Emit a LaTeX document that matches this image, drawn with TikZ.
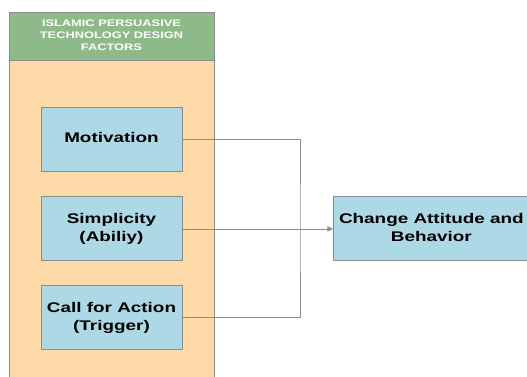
\documentclass[tikz,border=0pt]{standalone}
\usepackage{fontspec}
\setmainfont{Liberation Sans}
\usetikzlibrary{positioning, arrows.meta}
\definecolor{hdrgreen}{HTML}{8DBA88}
\definecolor{peach}{HTML}{FDDAA7}
\definecolor{boxblue}{HTML}{ADD8E6}
\definecolor{edgegray}{HTML}{8C8C8C}
\newcommand{\wide}[1]{\scalebox{1.35}[1]{\begin{tabular}{@{}c@{}}#1\end{tabular}}}
\tikzset{factor/.style={draw=edgegray, fill=boxblue, line width=0.9pt, minimum width=141pt, minimum height=64pt, inner sep=0pt, font=\bfseries\fontsize{14}{18}\selectfont},
    link/.style={draw=edgegray, line width=0.8pt}}

\begin{document}
\begin{tikzpicture}[x=1pt,y=-1pt]
                 \useasboundingbox (0,0) rectangle (527,376);
                 % container and header
                 \fill[peach] (9,12) rectangle (214,390);
                 \draw[edgegray, line width=0.9pt] (9,390)--(9,12)--(214,12)--(214,390);
                 \node[draw=edgegray, fill=hdrgreen, line width=0.9pt, minimum width=205pt, minimum height=48pt, inner sep=0pt, text=white, font=\bfseries\fontsize{9.5}{12}\selectfont] (hdr) at (111.5,36) {\wide{ISLAMIC PERSUASIVE\\TECHNOLOGY DESIGN\\FACTORS}};

                 % factors
                 \node[factor] (mot) at (111.5,139) {\wide{Motivation}};
                 \node[factor, below=25pt of mot] (sim) {\wide{Simplicity\\(Abiliy)}};
                 \node[factor, below=24pt of sim] (call) {\wide{Call for Action\\(Trigger)}};

                 \node[factor, minimum width=195pt, right=151pt of sim] (chg) {\wide{Change Attitude and\\Behavior}};

                 % connectors
                 \coordinate (j) at (300,228);
                 \draw[link] (mot.east) -| (j) |- (call.east);
                 \draw[link, -{Triangle[length=6pt, width=5pt]}] (sim.east) -- (chg.west);
             \end{tikzpicture}
\end{document}
